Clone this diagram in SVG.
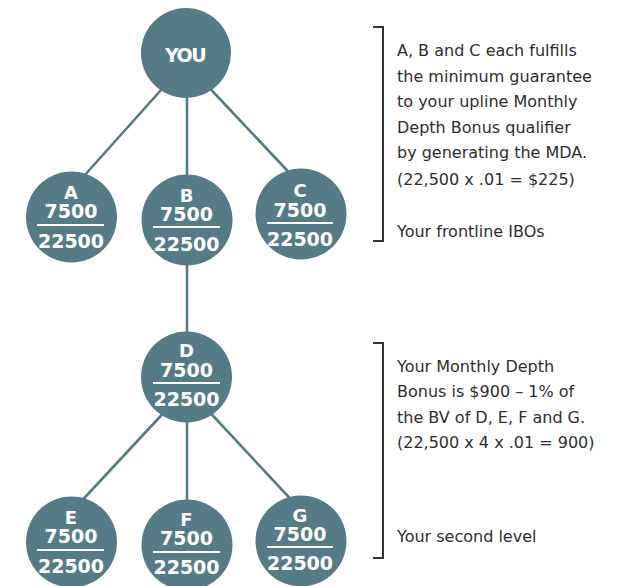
<svg xmlns="http://www.w3.org/2000/svg" width="621" height="586" viewBox="0 0 621 586">
<style>
.node{fill:#557b87}
.conn{stroke:#557b87;stroke-width:2.6;fill:none}
.nt{font-family:"DejaVu Sans",sans-serif;font-weight:bold;font-size:19px;fill:#fff;text-anchor:middle}
.lt{font-size:18px}
.bar{stroke:#fff;stroke-width:2}
.note{font-family:"DejaVu Sans",sans-serif;font-size:16px;fill:#2e2e2e}
.br{stroke:#333;stroke-width:2;fill:none}
</style>
<rect width="621" height="586" fill="#fff"/>
<g id="connectors">
<line class="conn" x1="170" y1="80" x2="75" y2="186"/>
<line class="conn" x1="187" y1="53" x2="187" y2="220"/>
<line class="conn" x1="202" y1="80" x2="298" y2="182"/>
<line class="conn" x1="187" y1="220" x2="187" y2="377"/>
<line class="conn" x1="170" y1="406" x2="75" y2="508"/>
<line class="conn" x1="187" y1="377" x2="187" y2="545"/>
<line class="conn" x1="202" y1="404" x2="298" y2="507"/>
</g>
<g id="you">
<circle class="node" cx="186" cy="53" r="45"/>
<text class="nt" x="185" y="62" font-size="20" letter-spacing="-1.5">YOU</text>
</g>
<g id="A">
<circle class="node" cx="71.5" cy="217" r="45.5"/>
<text class="nt lt" x="71" y="199">A</text>
<text class="nt" x="71" y="218">7500</text>
<line class="bar" x1="37" y1="225" x2="104" y2="225"/>
<text class="nt" x="71" y="248">22500</text>
</g>
<g id="B">
<circle class="node" cx="187" cy="220" r="45.5"/>
<text class="nt lt" x="186.5" y="202">B</text>
<text class="nt" x="186.5" y="221">7500</text>
<line class="bar" x1="153" y1="227" x2="220" y2="227"/>
<text class="nt" x="186.5" y="251">22500</text>
</g>
<g id="C">
<circle class="node" cx="301" cy="214" r="45.5"/>
<text class="nt lt" x="300" y="197">C</text>
<text class="nt" x="300" y="217">7500</text>
<line class="bar" x1="267" y1="223" x2="333" y2="223"/>
<text class="nt" x="300" y="246">22500</text>
</g>
<g id="D">
<circle class="node" cx="186.5" cy="377" r="45.5"/>
<text class="nt lt" x="186.5" y="357">D</text>
<text class="nt" x="186.5" y="377">7500</text>
<line class="bar" x1="153" y1="383" x2="220" y2="383"/>
<text class="nt" x="186.5" y="406">22500</text>
</g>
<g id="E">
<circle class="node" cx="71.5" cy="542" r="45.5"/>
<text class="nt lt" x="71" y="524">E</text>
<text class="nt" x="71" y="543">7500</text>
<line class="bar" x1="37" y1="550" x2="104" y2="550"/>
<text class="nt" x="71" y="573">22500</text>
</g>
<g id="F">
<circle class="node" cx="187" cy="545" r="45.5"/>
<text class="nt lt" x="186.5" y="526">F</text>
<text class="nt" x="186.5" y="545">7500</text>
<line class="bar" x1="153" y1="552" x2="220" y2="552"/>
<text class="nt" x="186.5" y="574">22500</text>
</g>
<g id="G">
<circle class="node" cx="301" cy="541" r="45.5"/>
<text class="nt lt" x="300" y="522">G</text>
<text class="nt" x="300" y="541">7500</text>
<line class="bar" x1="267" y1="547" x2="333" y2="547"/>
<text class="nt" x="300" y="570">22500</text>
</g>
<g id="note1">
<polyline class="br" points="373,27 383,27 383,241 373,241"/>
<text class="note" x="397" y="56">A, B and C each fulfills</text>
<text class="note" x="397" y="82">the minimum guarantee</text>
<text class="note" x="397" y="107">to your upline Monthly</text>
<text class="note" x="397" y="133">Depth Bonus qualifier</text>
<text class="note" x="397" y="158">by generating the MDA.</text>
<text class="note" x="397" y="185">(22,500 x .01 = $225)</text>
<text class="note" x="397" y="237">Your frontline IBOs</text>
</g>
<g id="note2">
<polyline class="br" points="373,343 383,343 383,558 373,558"/>
<text class="note" x="397" y="372">Your Monthly Depth</text>
<text class="note" x="397" y="397">Bonus is $900 – 1% of</text>
<text class="note" x="397" y="423">the BV of D, E, F and G.</text>
<text class="note" x="397" y="448">(22,500 x 4 x .01 = 900)</text>
<text class="note" x="397" y="542">Your second level</text>
</g>
</svg>
